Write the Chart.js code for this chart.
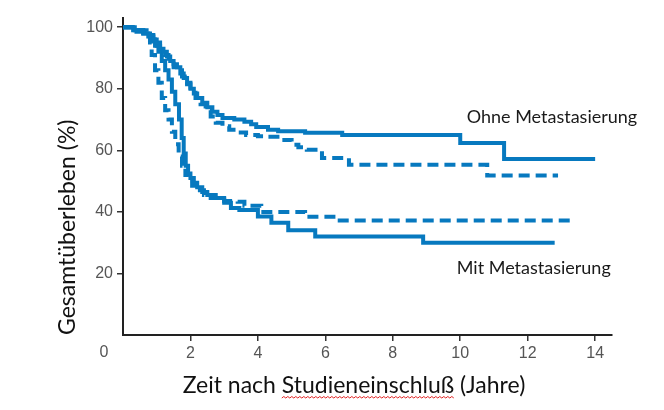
<!DOCTYPE html>
<html>
<head>
<meta charset="utf-8">
<script src="https://cdn.jsdelivr.net/npm/chart.js@4"></script>
<style>
html,body{margin:0;padding:0;background:#fff;}
#wrap{width:664px;height:410px;}
</style>
</head>
<body>
<div id="wrap"><canvas id="c" width="664" height="410"></canvas></div>
<script>
// ---- data (Kaplan-Meier step curves) ----
const xTickValues = [0, 2, 4, 6, 8, 10, 12, 14];
const yTickValues = [20, 40, 60, 80, 100];

const ohneSolidT = [0, 0.35, 0.6, 0.75, 0.9, 1.0, 1.1, 1.2, 1.3, 1.4, 1.5, 1.6, 1.7, 1.8, 1.9, 2.0, 2.1, 2.2, 2.35, 2.5, 2.65, 2.8, 2.95, 3.3, 3.6, 3.8, 3.95, 4.3, 4.6, 5.4, 6.5, 10.0, 11.3, 14.0];
const ohneSolidS = [100, 99, 98, 97, 96, 95, 93, 92, 90.5, 89, 88, 87, 85, 83.5, 82, 80, 78.5, 77, 75.5, 74, 72.5, 71.5, 70.5, 70, 69.3, 68.5, 67.6, 66.7, 66.2, 65.7, 65, 62.4, 57.2, 57.2];

const ohneDashT = [0, 0.4, 0.7, 0.9, 1.0, 1.1, 1.2, 1.35, 1.5, 1.6, 1.75, 1.9, 2.0, 2.15, 2.3, 2.45, 2.6, 2.75, 2.95, 3.15, 3.4, 3.65, 4.0, 4.3, 4.65, 5.0, 5.2, 5.45, 5.9, 6.7, 10.8, 12.9];
const ohneDashS = [100, 99, 97.5, 96, 94, 92.5, 91, 89, 87, 86, 84, 81.5, 79.5, 77, 75, 73, 71, 69, 67.8, 66.7, 65.8, 65, 64.6, 64.4, 63.4, 61.8, 61, 60.2, 57.5, 55.3, 51.8, 51.8];

const mitSolidT = [0, 0.3, 0.6, 0.8, 0.95, 1.05, 1.15, 1.25, 1.35, 1.45, 1.55, 1.66, 1.74, 1.8, 1.86, 1.93, 2.0, 2.1, 2.2, 2.35, 2.5, 2.75, 3.0, 3.2, 3.45, 4.0, 4.4, 4.9, 5.7, 8.9, 12.8];
const mitSolidS = [100, 99, 98, 96, 94, 92, 89, 86, 83, 79, 75, 70, 64, 59, 55, 52.5, 51, 49.5, 48, 46.5, 45.5, 44.5, 43, 41.3, 40.6, 38.5, 36.5, 34, 32, 30, 30];

const mitDashT = [0, 0.4, 0.7, 0.8, 0.85, 0.95, 1.05, 1.15, 1.25, 1.35, 1.45, 1.55, 1.65, 1.75, 1.85, 1.95, 2.05, 2.2, 2.4, 2.6, 2.8, 3.0, 3.4, 3.6, 4.1, 5.4, 6.3, 13.3];
const mitDashS = [100, 98.5, 97, 95, 91, 86, 82, 77, 73, 70, 66, 62, 58, 55, 52, 50, 48.5, 47, 45.5, 44.5, 44, 43.5, 43.3, 42, 40, 38.4, 37.2, 37.2];

const labelOhne = 'Ohne Metastasierung';
const labelMit = 'Mit Metastasierung';
const xTitle = 'Zeit nach Studieneinschluß (Jahre)';
const yTitle = 'Gesamtüberleben (%)';

// ---- build ----
const BLUE = '#0779bf';
const pts = (t, s) => t.map((x, i) => ({x: x, y: s[i]}));
const ds = (label, t, s, dash) => ({
  label: label, data: pts(t, s), borderColor: BLUE, borderWidth: 4,
  borderDash: dash, stepped: 'before', pointRadius: 0, fill: false,
  borderCapStyle: 'butt', borderJoinStyle: 'miter'
});

const textPlugin = {
  id: 'texts',
  afterDraw(chart) {
    const ctx = chart.ctx, xs = chart.scales.x, ys = chart.scales.y;
    ctx.save();
    // origin "0" label
    ctx.fillStyle = '#555';
    ctx.font = '16px "Liberation Sans"';
    ctx.textAlign = 'center';
    ctx.textBaseline = 'middle';
    ctx.fillText(String(xTickValues[0]), xs.getPixelForValue(0) - 19, 353);
    // curve labels
    ctx.fillStyle = '#1a1a1a';
    ctx.font = '18px Lato';
    ctx.fillText(labelOhne, xs.getPixelForValue(12.72), ys.getPixelForValue(70.9));
    ctx.fillText(labelMit, xs.getPixelForValue(12.18), ys.getPixelForValue(21.8));
    // x title
    ctx.font = '23px Lato';
    ctx.fillStyle = '#111';
    ctx.textAlign = 'left';
    const w = ctx.measureText(xTitle).width;
    const x0 = 354 - w / 2;
    ctx.fillText(xTitle, x0, 386);
    const pre = ctx.measureText('Zeit nach ').width;
    const word = ctx.measureText('Studieneinschluß').width;
    // spell-check squiggle
    ctx.strokeStyle = '#e02020';
    ctx.lineWidth = 1;
    ctx.beginPath();
    let sx = x0 + pre, ex = sx + word, up = true;
    ctx.moveTo(sx, 398);
    for (let x = sx + 2; x <= ex; x += 2) { ctx.lineTo(x, up ? 396.5 : 398); up = !up; }
    ctx.stroke();
    ctx.restore();
  }
};

new Chart(document.getElementById('c'), {
  type: 'line',
  data: {
    datasets: [
      ds(labelOhne, ohneSolidT, ohneSolidS, []),
      ds(labelOhne + ' (gestrichelt)', ohneDashT, ohneDashS, [11, 6]),
      ds(labelMit, mitSolidT, mitSolidS, []),
      ds(labelMit + ' (gestrichelt)', mitDashT, mitDashS, [11, 6])
    ]
  },
  options: {
    responsive: false,
    animation: false,
    layout: {padding: {left: 50, right: 52, top: 18, bottom: 0}},
    plugins: {legend: {display: false}, tooltip: {enabled: false}},
    scales: {
      x: {
        type: 'linear', min: 0, max: 14.5,
        afterBuildTicks: s => { s.ticks = xTickValues.filter(v => v > 0).map(v => ({value: v})); },
        afterFit: s => { s.height = 75; },
        ticks: {color: '#555', font: {size: 16, family: '"Liberation Sans"'}, padding: 3, maxRotation: 0, autoSkip: false},
        grid: {drawOnChartArea: false, drawTicks: true, tickLength: 6, color: '#333', lineWidth: 1.5},
        border: {display: true, color: '#222', width: 2}
      },
      y: {
        min: 0, max: 103,
        afterBuildTicks: s => { s.ticks = yTickValues.map(v => ({value: v})); },
        afterFit: s => { s.width = 73; },
        ticks: {color: '#555', font: {size: 16, family: '"Liberation Sans"'}, padding: 4},
        grid: {drawOnChartArea: false, drawTicks: true, tickLength: 6, color: '#333', lineWidth: 1.5},
        border: {display: true, color: '#222', width: 2},
        title: {display: true, text: yTitle, align: 'start', color: '#111', font: {size: 23, family: 'Lato'}, padding: {top: 4, bottom: 4}}
      }
    }
  },
  plugins: [textPlugin]
});
</script>
</body>
</html>
